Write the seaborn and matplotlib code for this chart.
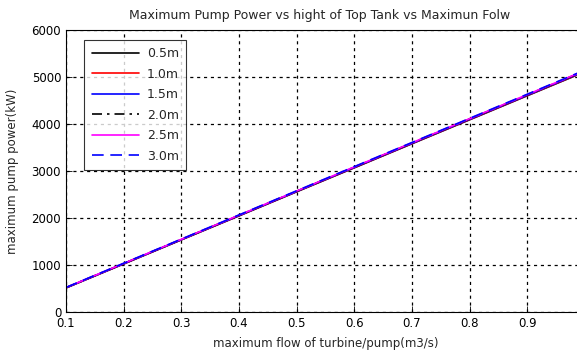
import matplotlib
matplotlib.use("Agg")
import matplotlib.pyplot as plt
import seaborn as sns
import pandas as pd

flow = [0.1, 0.2, 0.3, 0.4, 0.5, 0.6, 0.7, 0.8, 0.9, 1.0]
heights = ["0.5m", "1.0m", "1.5m", "2.0m", "2.5m", "3.0m"]
p_05 = [512, 1022, 1535, 2045, 2558, 3068, 3580, 4090, 4602, 5112]
p_10 = [514, 1025, 1538, 2049, 2562, 3073, 3585, 4096, 4608, 5119]
p_15 = [516, 1028, 1541, 2053, 2566, 3078, 3590, 4102, 4614, 5126]
p_20 = [518, 1031, 1544, 2057, 2570, 3083, 3596, 4108, 4621, 5133]
p_25 = [520, 1034, 1547, 2061, 2574, 3088, 3601, 4114, 4627, 5140]
p_30 = [522, 1037, 1551, 2065, 2579, 3093, 3607, 4121, 4634, 5148]
series = [p_05, p_10, p_15, p_20, p_25, p_30]

colors = ["black", "red", "blue", "black", "magenta", "blue"]
styles = ["-", "-", "-", (0, (6, 3, 1.5, 3)), "-", (0, (7, 4))]

sns.set_style("ticks")
plt.rcParams["font.family"] = ["DejaVu Sans"]

fig = plt.figure(figsize=(5.77, 3.54), dpi=100)
ax = fig.add_axes([66/577, 42/354, (585-66)/577, (312-30)/354])

for h, vals, c, ls in zip(heights, series, colors, styles):
    df = pd.DataFrame({"flow": flow, "power": vals})
    sns.lineplot(data=df, x="flow", y="power", ax=ax, color=c, linestyle=ls,
                 linewidth=1.2, label=h)

ax.set_xlim(0.1, 1.0)
ax.set_ylim(0, 6000)
ax.set_xticks([0.1, 0.2, 0.3, 0.4, 0.5, 0.6, 0.7, 0.8, 0.9, 1.0])
ax.set_xticklabels(["0.1", "0.2", "0.3", "0.4", "0.5", "0.6", "0.7", "0.8", "0.9", "1"])
ax.set_yticks([0, 1000, 2000, 3000, 4000, 5000, 6000])
ax.grid(True, color="black", linestyle=(0, (2.5, 3)), linewidth=0.9)
ax.tick_params(direction="in", labelsize=8.5, length=4, width=0.6, colors="black")
for s in ax.spines.values():
    s.set_visible(True)
    s.set_color("black")
    s.set_linewidth(0.8)

ax.set_xlabel("maximum flow of turbine/pump(m3/s)", fontsize=8.5, labelpad=5)
ax.set_ylabel("maximum pump power(kW)", fontsize=8.5, labelpad=9)
fig.text(320/577, 1 - 15/354, "Maximum Pump Power vs hight of Top Tank vs Maximun Folw",
         ha="center", va="center", fontsize=9)

leg = ax.legend(loc="upper left", bbox_to_anchor=(0.035, 0.965), borderaxespad=0,
                fontsize=9, frameon=True, fancybox=False, edgecolor="black",
                handlelength=3.8, handletextpad=0.6, labelspacing=0.6, borderpad=0.6)
leg.get_frame().set_linewidth(0.8)

fig.savefig("out.png", dpi=100)
